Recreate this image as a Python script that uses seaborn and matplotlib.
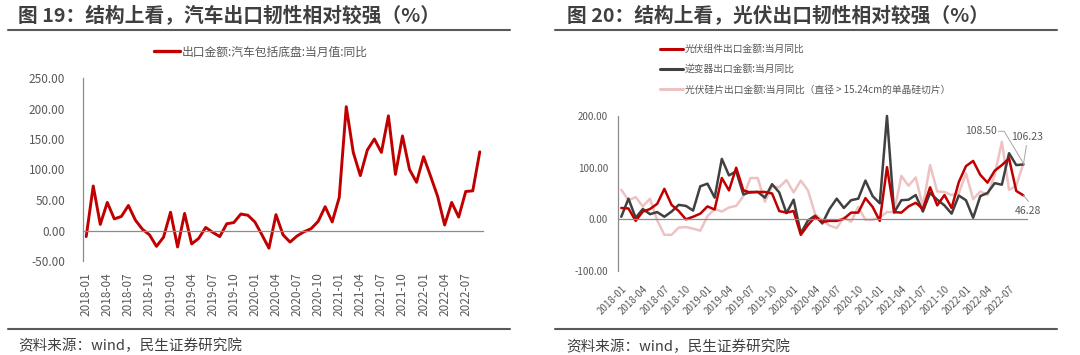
import numpy as np
import pandas as pd
import matplotlib
matplotlib.use("Agg")
import matplotlib.pyplot as plt
import seaborn as sns
from matplotlib.lines import Line2D

sns.set_theme(style="white")
plt.rcParams["font.family"] = ["Noto Sans CJK SC", "DejaVu Sans"]
plt.rcParams["axes.unicode_minus"] = False

# ---------------- data ----------------
months = [str(p) for p in pd.period_range("2018-01", "2022-09", freq="M")]
tick_labels = ["2018-01", "2018-04", "2018-07", "2018-10", "2019-01", "2019-04",
               "2019-07", "2019-10", "2020-01", "2020-04", "2020-07", "2020-10",
               "2021-01", "2021-04", "2021-07", "2021-10", "2022-01", "2022-04",
               "2022-07"]

auto_yoy = [-10, 73, 10, 46, 19, 23, 41, 17, 2, -7,
            -26, -11, 30, -27, 28, -22, -13, 5, -3, -10,
            11, 13, 27, 25, 14, -7, -29, 26, -7, -19,
            -9, -2, 3, 15, 39, 14, 54, 203, 128, 90,
            132, 150, 128, 188, 92, 155, 100, 79, 121, 89,
            56, 9, 46, 22, 64, 65, 129]

module_yoy = [22, 21, -3, 15, 20, 30, 59, 28, 16, 0,
              5, 11, 25, 19, 80, 56, 100, 56, 52, 53,
              53, 50, 16, 13, 16, -30, -11, 5, -5, -3,
              -3, 1, 13, 13, 41, 24, -3, 101, 14, 13,
              25, 32, 20, 62, 27, 47, 22, 72, 103, 113,
              86, 71, 94, 105, 118, 55, 46.28]

inverter_yoy = [5, 40, 3, 20, 10, 14, 5, 15, 28, 26,
                17, 64, 69, 42, 117, 85, 93, 48, 53, 53,
                42, 68, 52, 12, 38, -27, -2, 7, -8, 20,
                40, 22, 37, 40, 75, 45, 31, 200, 13, 37,
                38, 47, 15, 51, 38, 27, 11, 46, 37, 3,
                45, 51, 70, 67, 128, 105, 106.23]

wafer_yoy = [57, 37, 43, 25, 40, -2, -30, -30, -16, -15,
             -18, -22, 6, 20, 15, 23, 26, 45, 80, 80,
             34, 64, 62, 76, 52, 75, 56, 10, -2, -12,
             -17, 4, -5, 24, -1, -1, 4, 14, 14, 84,
             65, 81, 25, 105, 54, 53, 47, 50, 89, 39,
             54, 47, 86, 150, 57, 65, 108.50]

left_label = "出口金额:汽车包括底盘:当月值:同比"
right_labels = ["光伏组件出口金额:当月同比", "逆变器出口金额:当月同比",
                "光伏硅片出口金额:当月同比（直径 > 15.24cm的单晶硅切片）"]

RED = "#C00000"
DARK = "#404040"
PINK = "#EDC2C2"
GRAY_TXT = "#595959"
AX_COL = "#8C8C8C"
LEAD = "#A6A6A6"

W, H = 1080, 355
fig = plt.figure(figsize=(W / 100, H / 100), dpi=100)


def fx(px):
    return px / W


def fy(py):
    return 1 - py / H


idx = np.arange(len(months))
tick_pos = idx[::3][:len(tick_labels)]
boundaries = np.arange(-0.5, len(months), 3)


def style_axes(ax, ylim, yticks, ysize, ypad, rot, xsize, xpad):
    ax.set_xlim(-0.5, len(months) - 0.5)
    ax.set_ylim(*ylim)
    ax.set_yticks(yticks)
    ax.set_yticklabels([f"{v:.2f}" for v in yticks])
    ax.tick_params(axis="y", length=0, pad=ypad, labelsize=ysize, labelcolor=GRAY_TXT)
    for s in ["top", "right"]:
        ax.spines[s].set_visible(False)
    ax.spines["left"].set_color(AX_COL)
    ax.spines["left"].set_linewidth(0.9)
    ax.spines["bottom"].set_position(("data", 0))
    ax.spines["bottom"].set_color(AX_COL)
    ax.spines["bottom"].set_linewidth(0.9)
    ax.set_xticks(boundaries)
    ax.tick_params(axis="x", direction="out", length=4, width=0.9, color=AX_COL,
                   labelbottom=False)
    sec = ax.secondary_xaxis(0.0)
    sec.set_xticks(tick_pos)
    if rot == 90:
        sec.set_xticklabels(tick_labels, rotation=90, ha="center", va="top")
    else:
        sec.set_xticklabels(tick_labels, rotation=rot, ha="right", va="top",
                            rotation_mode="anchor")
    sec.tick_params(axis="x", length=0, pad=xpad, labelsize=xsize, labelcolor=GRAY_TXT)
    sec.spines["bottom"].set_visible(False)
    ax.set_xlabel("")
    ax.set_ylabel("")
    ax.grid(False)


# ---------------- left panel ----------------
axL = fig.add_axes([fx(82.7), fy(261), fx(483.3 - 82.7), (261 - 78) / H])
sns.lineplot(x=idx, y=auto_yoy, ax=axL, color=RED, linewidth=2.1, legend=False)
style_axes(axL, (-50, 250), [-50, 0, 50, 100, 150, 200, 250], 8.5, 12.5, 90, 8.5, 8)

# ---------------- right panel ----------------
axR = fig.add_axes([fx(617.7), fy(271), fx(1027 - 617.7), (271 - 116) / H])
sns.lineplot(x=idx, y=wafer_yoy, ax=axR, color=PINK, linewidth=1.8, legend=False)
sns.lineplot(x=idx, y=inverter_yoy, ax=axR, color=DARK, linewidth=1.8, legend=False)
sns.lineplot(x=idx, y=module_yoy, ax=axR, color=RED, linewidth=1.8, legend=False)
style_axes(axR, (-100, 200), [-100, 0, 100, 200], 7, 7, 45, 7, 9)
for ln in axR.lines:
    ln.set_clip_on(False)

# ---------------- end-value labels with leader lines (offsets in pixels) ----------------
last = len(months) - 1
txt_kw = dict(fontsize=7.5, color=GRAY_TXT, textcoords="offset pixels")
lead_kw = dict(arrowstyle="-", color=LEAD, lw=0.7, shrinkA=0, shrinkB=0)

# wafer: text up-left, horizontal stub then diagonal down to the point
axR.annotate(f"{wafer_yoy[-1]:.2f}", xy=(last, wafer_yoy[-1]), xytext=(-27, 32),
             ha="right", va="center", **txt_kw)
axR.annotate("", xy=(last, wafer_yoy[-1]), xytext=(-25, 32), textcoords="offset pixels",
             arrowprops=dict(lead_kw, connectionstyle="angle,angleA=0,angleB=121,rad=0"))

# inverter: text above, short leader down to the point
axR.annotate(f"{inverter_yoy[-1]:.2f}", xy=(last, inverter_yoy[-1]), xytext=(4, 27),
             ha="center", va="center", **txt_kw)
axR.annotate("", xy=(last, inverter_yoy[-1]), xytext=(3, 19),
             textcoords="offset pixels", arrowprops=lead_kw)

# module: text below
axR.annotate(f"{module_yoy[-1]:.2f}", xy=(last, module_yoy[-1]), xytext=(5, -16),
             ha="center", va="center", **txt_kw)
axR.annotate("", xy=(last, module_yoy[-1]), xytext=(5, -6),
             textcoords="offset pixels", arrowprops=lead_kw)

# ---------------- legends ----------------
hL = [Line2D([0], [0], color=RED, lw=2.4)]
fig.legend(hL, [left_label], loc="center", bbox_to_anchor=(fx(261), fy(52)),
           frameon=False, fontsize=8.5, handlelength=2.2, handletextpad=0.2,
           labelcolor=GRAY_TXT)

hR = [Line2D([0], [0], color=c, lw=2.2) for c in [RED, DARK, PINK]]
fig.legend(hR, right_labels, loc="upper left", bbox_to_anchor=(fx(660), fy(44)),
           frameon=False, fontsize=7, handlelength=2.4, handletextpad=0.15,
           labelspacing=1.05, labelcolor=GRAY_TXT, borderaxespad=0, borderpad=0)

# ---------------- titles, rules, sources ----------------
fig.text(fx(18), fy(16), "图 19：结构上看，汽车出口韧性相对较强（%）", fontsize=14.2,
         fontweight="bold", color="#3F3F3F", ha="left", va="center")
fig.text(fx(567), fy(16), "图 20：结构上看，光伏出口韧性相对较强（%）", fontsize=14.2,
         fontweight="bold", color="#3F3F3F", ha="left", va="center")
for x0, x1 in [(8, 510), (555, 1057)]:
    for yy in (30, 329):
        fig.add_artist(Line2D([fx(x0), fx(x1)], [fy(yy), fy(yy)], color="#595959",
                              lw=1.5, transform=fig.transFigure))
fig.text(fx(18), fy(346), "资料来源：wind，民生证券研究院", fontsize=10.5,
         color="#404040", ha="left", va="center")
fig.text(fx(566), fy(347), "资料来源：wind，民生证券研究院", fontsize=10.5,
         color="#404040", ha="left", va="center")

fig.savefig("out.png", dpi=100, facecolor="white")
